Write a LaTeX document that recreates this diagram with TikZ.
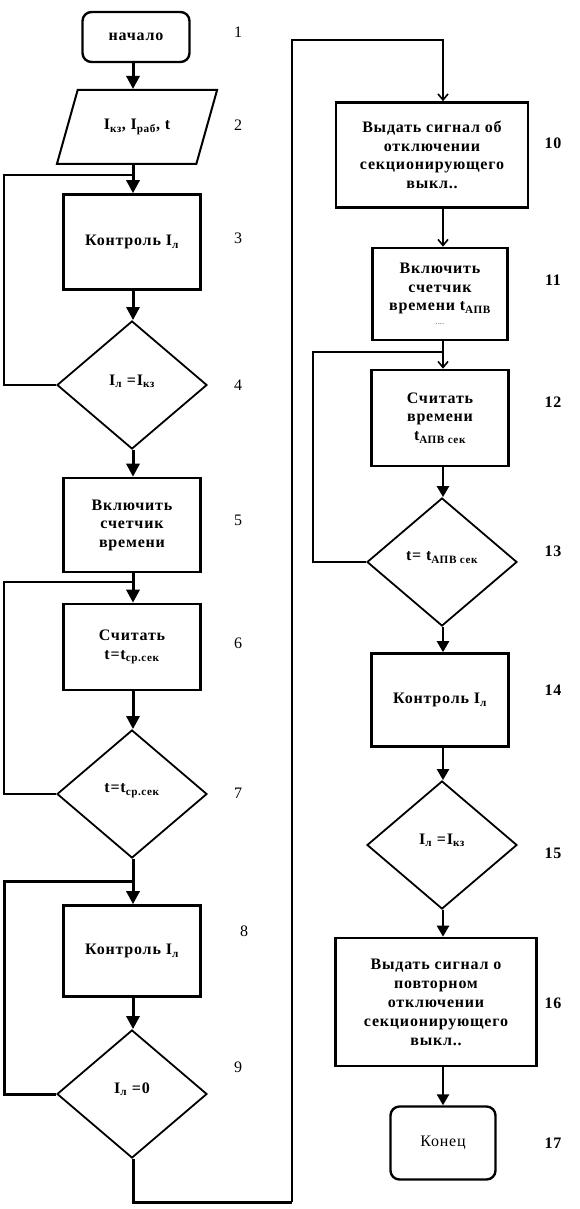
\documentclass[tikz,border=0pt]{standalone}
\usepackage{fontspec}
\setmainfont{Liberation Serif}[LetterSpace=5]
\usetikzlibrary{arrows.meta,shapes.geometric}
\begin{document}
\begin{tikzpicture}[x=1pt,y=-1pt,
  proc/.style={draw, line width=2.6pt, inner sep=2pt, align=center, font=\fontsize{16}{18.5}\selectfont\bfseries},
  term/.style={draw, line width=2.4pt, rounded corners=9pt, align=center, font=\fontsize{16}{18.5}\selectfont},
  dec/.style={draw, diamond, line width=1.8pt, inner sep=0pt, minimum width=150pt, minimum height=128pt, align=center, font=\fontsize{16}{18.5}\selectfont\bfseries},
  io/.style={draw, trapezium, trapezium left angle=60, trapezium right angle=120, trapezium stretches=true, line width=2pt, font=\fontsize{16}{18.5}\selectfont\bfseries},
  num/.style={font=\fontsize{16}{18}\selectfont},
  bnum/.style={font=\fontsize{16}{18}\selectfont\bfseries},
  arr/.style={line width=3pt, -{Triangle[length=13pt,width=13pt]}},
  thinarr/.style={line width=2pt, -{Straight Barb[length=6pt,width=10pt,line width=1.6pt]}},
  midarr/.style={line width=2.4pt, -{Triangle[length=11pt,width=12pt]}},
  loopline/.style={line width=2.2pt},
  thickloop/.style={line width=3pt}]
\useasboundingbox (0,0) rectangle (580,1209);
\coordinate (colL) at (133,0);
\coordinate (colR) at (443,0);
\coordinate (xl) at (4,0);
\coordinate (xm) at (313,0);
% left column
\node[term, minimum width=107pt, minimum height=50pt, font=\fontsize{16}{18.5}\selectfont\bfseries] (start) at (136,37) {начало};
\node[io, minimum width=161pt, minimum height=74pt] (para) at (137,127) {I\textsubscript{кз}, I\textsubscript{раб}, t};
\node[proc, minimum width=137pt, minimum height=95pt] (b3) at (132,242) {Контроль I\textsubscript{л}};
\node[dec] (d4) at (132,385) {\raisebox{10pt}{I\textsubscript{л} =I\textsubscript{кз}}};
\node[proc, minimum width=137pt, minimum height=94pt] (b5) at (132,525) {Включить\\счетчик\\времени};
\node[proc, minimum width=137pt, minimum height=86pt] (b6) at (132,647) {Считать\\t=t\textsubscript{ср.сек}};
\node[dec] (d7) at (132,794) {\raisebox{12pt}{t=t\textsubscript{ср.сек}}};
\node[proc, minimum width=137pt, minimum height=91pt] (b8) at (132,951) {Контроль I\textsubscript{л}};
\node[dec] (d9) at (132,1094) {\raisebox{12pt}{I\textsubscript{л} =0}};
% right column
\node[proc, minimum width=192pt, minimum height=105pt] (b10) at (432,155) {Выдать сигнал об\\отключении\\секционирующего\\выкл..};
\node[proc, minimum width=135pt, minimum height=92pt] (b11) at (440,294) {Включить\\счетчик\\времени t\textsubscript{АПВ}\\[-5pt]{\mdseries\scriptsize ....}};
\node[proc, minimum width=137pt, minimum height=96pt] (b12) at (440,418) {Считать\\времени\\t\textsubscript{АПВ сек}};
\node[dec] (d13) at (442,562) {\raisebox{12pt}{t= t\textsubscript{АПВ сек}}};
\node[proc, minimum width=137pt, minimum height=93pt] (b14) at (440,700) {Контроль I\textsubscript{л}};
\node[dec] (d15) at (442,845) {\raisebox{12pt}{I\textsubscript{л} =I\textsubscript{кз}}};
\node[proc, minimum width=201pt, minimum height=128pt, font=\fontsize{16}{19}\selectfont\bfseries] (b16) at (436,1002) {Выдать сигнал о\\повторном\\отключении\\секционирующего\\выкл..};
\node[term, minimum width=105pt, minimum height=73pt] (stop) at (443,1143) {Конец};
% numbers
\node[num] (n1) at (238,32) {1};
\node[num] (n2) at (238,125) {2};
\node[num] (n3) at (238,238) {3};
\node[num] (n4) at (238,385) {4};
\node[num] (n5) at (238,520) {5};
\node[num] (n6) at (238,643) {6};
\node[num] (n7) at (238,793) {7};
\node[num] (n8) at (244,931) {8};
\node[num] (n9) at (238,1067) {9};
\node[bnum] (n10) at (553,143) {10};
\node[bnum] (n11) at (553,280) {11};
\node[bnum] (n12) at (553,402) {12};
\node[bnum] (n13) at (553,551) {13};
\node[bnum] (n14) at (553,690) {14};
\node[bnum] (n15) at (553,853) {15};
\node[bnum] (n16) at (553,1003) {16};
\node[bnum] (n17) at (553,1143) {17};
% junction coordinates
\coordinate (j3) at (133,175);
\coordinate (j6) at (133,582);
\coordinate (j8) at (133,881);
\coordinate (j12) at (443,352);
\coordinate (bot) at (292,1202);
\coordinate (top) at (443,40);
% left connectors
\draw[arr] (start.south -| colL) -- (para.north -| colL);
\draw[arr] (para.south -| colL) -- (b3.north -| colL);
\draw[arr] (b3.south -| colL) -- (d4.north -| colL);
\draw[arr] (d4.south -| colL) -- (b5.north -| colL);
\draw[arr] (b5.south -| colL) -- (b6.north -| colL);
\draw[arr] (b6.south -| colL) -- (d7.north -| colL);
\draw[arr] (d7.south -| colL) -- (b8.north -| colL);
\draw[arr] (b8.south -| colL) -- (d9.north -| colL);
\draw[loopline] (d4.west) -| (xl |- j3) -- (j3);
\draw[loopline] (d7.west) -| (xl |- j6) -- (j6);
\draw[thickloop] (d9.west) -| (xl |- j8) -- (j8);
% transfer to right column
\draw[line width=3pt] (d9.south -| colL) |- (bot);
\draw[thinarr] (bot) |- (top) -- (b10.north -| colR);
% right connectors
\draw[thinarr] (b10.south -| colR) -- (b11.north -| colR);
\draw[thinarr] (b11.south -| colR) -- (b12.north -| colR);
\draw[midarr] (b12.south -| colR) -- (d13.north -| colR);
\draw[midarr] (d13.south -| colR) -- (b14.north -| colR);
\draw[midarr] (b14.south -| colR) -- (d15.north -| colR);
\draw[midarr] (d15.south -| colR) -- (b16.north -| colR);
\draw[midarr] (b16.south -| colR) -- (stop.north -| colR);
\draw[loopline] (d13.west) -| (xm |- j12) -- (j12);
\end{tikzpicture}
\end{document}
